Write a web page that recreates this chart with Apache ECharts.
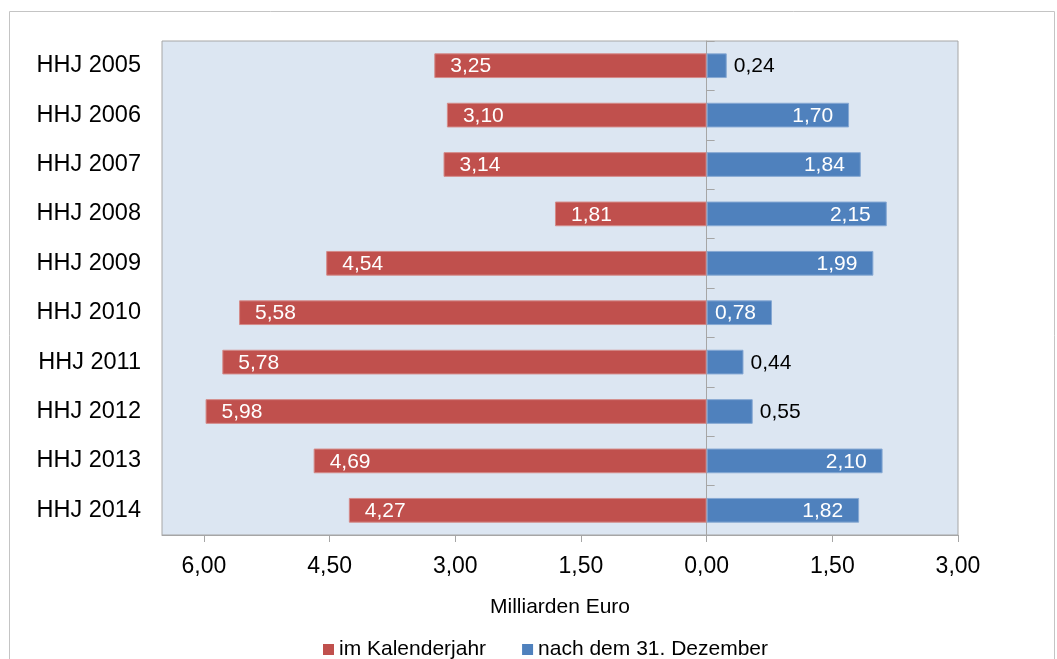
<!DOCTYPE html>
<html>
<head>
<meta charset="utf-8">
<script src="https://cdn.jsdelivr.net/npm/echarts@6/dist/echarts.min.js"></script>
<style>
  html, body { margin: 0; padding: 0; background: #fff; }
  #main { width: 1057px; height: 659px; }
</style>
</head>
<body>
<div id="main"></div>
<script>
  // Haushaltsjahre
  const categories = ['HHJ 2005', 'HHJ 2006', 'HHJ 2007', 'HHJ 2008', 'HHJ 2009',
    'HHJ 2010', 'HHJ 2011', 'HHJ 2012', 'HHJ 2013', 'HHJ 2014'];
  // Milliarden Euro
  const imKalenderjahr = [3.25, 3.10, 3.14, 1.81, 4.54, 5.58, 5.78, 5.98, 4.69, 4.27];
  const nachDezember = [0.24, 1.70, 1.84, 2.15, 1.99, 0.78, 0.44, 0.55, 2.10, 1.82];
  const tickValues = [-6, -4.5, -3, -1.5, 0, 1.5, 3];

  const fontFamily = '"Liberation Sans", Arial, sans-serif';
  const fmt = v => Math.abs(v).toFixed(2).replace('.', ',');

  const chart = echarts.init(document.getElementById('main'), null, { renderer: 'canvas' });

  const option = {
    animation: false,
    textStyle: { fontFamily: fontFamily },
    graphic: [{
      type: 'rect',
      shape: { x: 9.5, y: 11.5, width: 1045, height: 700 },
      style: { fill: 'none', stroke: '#c4c4c4', lineWidth: 1 },
      silent: true
    }],
    grid: {
      left: 162, right: 99, top: 41, bottom: 124,
      show: true,
      backgroundColor: '#dce6f2',
      borderColor: '#a6a6a6',
      borderWidth: 1
    },
    legend: {
      left: 318,
      top: 634,
      icon: 'rect',
      itemWidth: 11,
      itemHeight: 11,
      itemGap: 36,
      itemStyle: { borderWidth: 0 },
      textStyle: { fontSize: 21, color: '#000', fontFamily: fontFamily },
      data: ['im Kalenderjahr', 'nach dem 31. Dezember']
    },
    xAxis: {
      type: 'value',
      min: -6.5,
      max: 3,
      name: 'Milliarden Euro',
      nameLocation: 'middle',
      nameGap: 62,
      nameTextStyle: { fontSize: 21, color: '#000', fontFamily: fontFamily },
      axisLine: { show: true, lineStyle: { color: '#a6a6a6' } },
      axisTick: { show: true, length: 7, customValues: tickValues, lineStyle: { color: '#a6a6a6' } },
      axisLabel: {
        customValues: tickValues,
        formatter: fmt,
        fontSize: 23,
        color: '#000',
        margin: 20
      },
      splitLine: { show: false }
    },
    yAxis: [{
      type: 'category',
      data: categories,
      inverse: true,
      axisLine: { show: false, onZero: false },
      axisTick: { show: false },
      axisLabel: { fontSize: 23.5, color: '#000', margin: 21 }
    }, {
      type: 'category',
      data: categories,
      inverse: true,
      position: 'left',
      axisLine: { show: true, onZero: true, onZeroAxisIndex: 0, lineStyle: { color: '#a6a6a6' } },
      axisTick: { show: true, inside: true, length: 8, lineStyle: { color: '#a6a6a6' } },
      axisLabel: { show: false }
    }],
    series: [{
      name: 'im Kalenderjahr',
      type: 'bar',
      stack: 'hhj',
      barWidth: '50%',
      itemStyle: { color: '#c0504d', borderColor: '#d48a88', borderWidth: 1 },
      label: {
        show: true,
        position: 'insideLeft',
        distance: 16,
        offset: [0, 1],
        color: '#fff',
        fontSize: 21,
        formatter: p => fmt(p.value)
      },
      data: imKalenderjahr.map(v => -v)
    }, {
      name: 'nach dem 31. Dezember',
      type: 'bar',
      stack: 'hhj',
      barWidth: '50%',
      itemStyle: { color: '#4f81bd', borderColor: '#86a8d3', borderWidth: 1 },
      label: {
        show: true,
        position: 'insideRight',
        distance: 16,
        offset: [0, 1],
        color: '#fff',
        fontSize: 21,
        formatter: p => fmt(p.value)
      },
      data: nachDezember.map(v => v < 0.7
        ? { value: v, label: { position: 'right', distance: 7, color: '#000' } }
        : v)
    }]
  };

  chart.setOption(option);

  window.addEventListener('resize', () => chart.resize());
</script>
</body>
</html>
